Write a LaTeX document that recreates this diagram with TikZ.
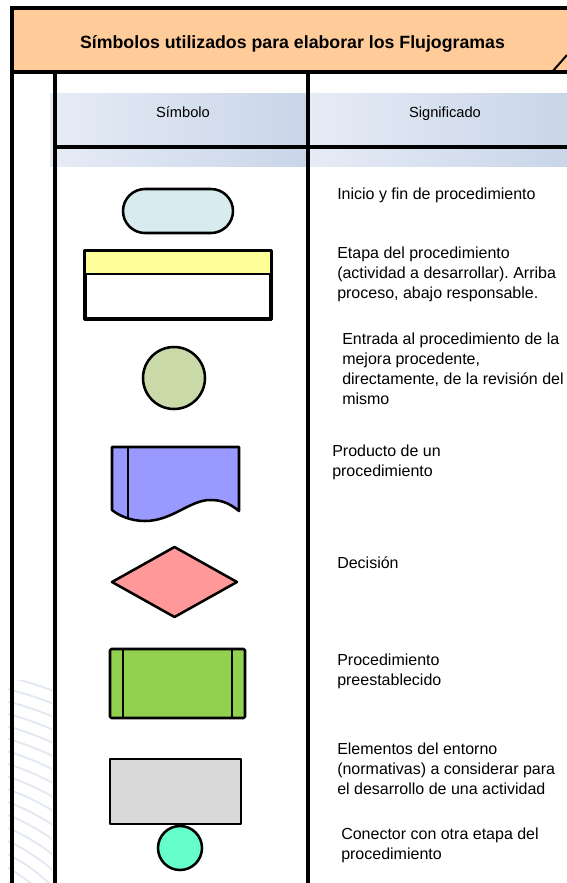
\documentclass[tikz,border=0pt]{standalone}
\usepackage{fontspec}
\setmainfont{Liberation Sans}
\usetikzlibrary{shapes.geometric}
\frenchspacing
\definecolor{peach}{HTML}{FFCC99}
\definecolor{hdrL}{HTML}{E6ECF6}
\definecolor{hdrR}{HTML}{C9D5E8}
\definecolor{termfill}{HTML}{D8ECF0}
\definecolor{procyel}{HTML}{FFFF99}
\definecolor{entfill}{HTML}{C9D9A8}
\definecolor{docfill}{HTML}{9999FF}
\definecolor{decfill}{HTML}{FF9999}
\definecolor{prefill}{HTML}{92D050}
\definecolor{envfill}{HTML}{D9D9D9}
\definecolor{confill}{HTML}{66FFCC}
\definecolor{wm}{HTML}{E3E9F2}
\begin{document}
\begin{tikzpicture}[x=0.75pt,y=-0.75pt,
  tbl/.style={line width=3pt},
  shp/.style={draw=black,line width=1.9pt,line join=round},
  desc/.style={anchor=base west,align=left,inner sep=0pt,font=\fontsize{12pt}{15pt}\selectfont},
  hdr/.style={anchor=base,inner sep=0pt,font=\fontsize{11pt}{13pt}\selectfont}]
\useasboundingbox (0,0) rectangle (567,883);
\fill[white] (0,0) rectangle (567,883);
% watermark arcs
\begin{scope}
\clip (8,680) rectangle (52,883);
\foreach \r in {150,162,...,350} \draw[wm,line width=1.4pt] (-70,1010) circle[radius=\r*0.75pt];
\end{scope}
% header band
\shade[left color=hdrL,right color=hdrR] (50,93) rectangle (308,166);
\shade[left color=hdrL,right color=hdrR] (308,93) rectangle (567,166);
% title box
\draw[line width=2.5pt,fill=peach] (12,8) rectangle (600,72);
\draw[line width=1.5pt] (552,72) -- (567,55);
\node[anchor=base,inner sep=0pt,font=\bfseries\fontsize{13.3pt}{15pt}\selectfont] (title) at (292.5,48) {Símbolos utilizados para elaborar los Flujogramas};
% table lines
\draw[tbl] (12,72) -- (12,890);
\draw[tbl] (55,72) -- (55,890);
\draw[tbl] (308,72) -- (308,890);
\draw[tbl] (55,147) -- (570,147);
\node[hdr] (hsim) at (183,117) {Símbolo};
\node[hdr] (hsig) at (445,117) {Significado};
% 1 terminal
\node[shp,fill=termfill,minimum width=82.5pt,minimum height=33pt,rounded corners=16.5pt,inner sep=0pt] (term) at (178,211) {};
% 2 process
\node[shp,fill=white,minimum width=138pt,minimum height=49.5pt,inner sep=0pt] (proc) at (178,285) {};
\fill[procyel] (86,252) rectangle (270,274);
\draw[shp] (86,274) -- (270,274);
\draw[shp] (proc.north west) rectangle (proc.south east);
% 3 circle
\node[shp,circle,fill=entfill,minimum size=46.5pt,inner sep=0pt] (ent) at (174,378) {};
% 4 document
\draw[shp,fill=docfill] (112,447) -- (239,447) -- (239,511)
  .. controls (228,502) and (220,500) .. (210,500)
  .. controls (190,500) and (172,521) .. (145,521)
  .. controls (130,521) and (118,515) .. (112,510) -- cycle;
\draw[shp] (128,447) -- (128,517.5);
% 5 decision
\draw[shp,fill=decfill] (112,582) -- (174.5,547) -- (237,582) -- (174.5,617) -- cycle;
% 6 predefined
\draw[shp,fill=prefill,rounded corners=1pt] (110,649) rectangle (245,718);
\draw[shp] (123,649) -- (123,718);
\draw[shp] (232,649) -- (232,718);
% 7 environment
\draw[shp,fill=envfill] (110,759) rectangle (241,824);
% 8 connector
\node[shp,circle,fill=confill,minimum size=33pt,inner sep=0pt] (con) at (180,848) {};
% descriptions (base anchor = last line baseline)
\node[desc] (d1) at (337,199.5) {Inicio y fin de procedimiento};
\node[desc] (d2) at (337,298.5) {Etapa del procedimiento\\(actividad a desarrollar). Arriba\\proceso, abajo responsable.};
\node[desc] (d3) at (342,404.5) {Entrada al procedimiento de la\\mejora procedente,\\directamente, de la revisión del\\mismo};
\node[desc] (d4) at (332,476.5) {Producto de un\\procedimiento};
\node[desc] (d5) at (337,568.5) {Decisión};
\node[desc] (d6) at (337,685.5) {Procedimiento\\preestablecido};
\node[desc] (d7) at (337,794.5) {Elementos del entorno\\(normativas) a considerar para\\el desarrollo de una actividad};
\node[desc] (d8) at (341,859.5) {Conector con otra etapa del\\procedimiento};
\end{tikzpicture}
\end{document}
